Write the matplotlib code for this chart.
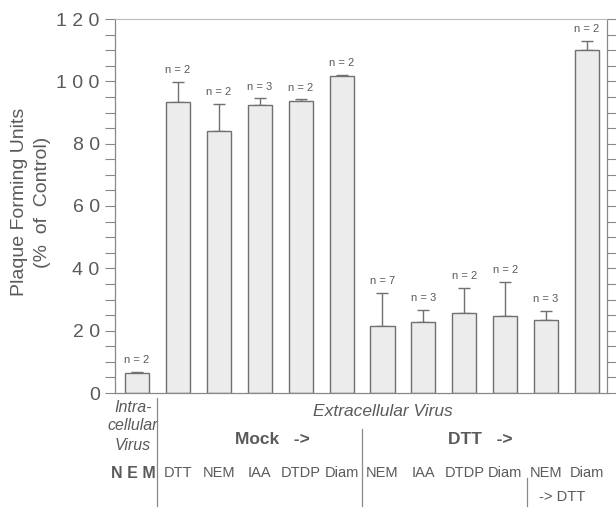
import matplotlib.pyplot as plt
from matplotlib.ticker import MultipleLocator, FixedFormatter, FixedLocator

treatments = ["DTT", "NEM", "IAA", "DTDP", "Diam", "NEM", "IAA", "DTDP", "Diam", "NEM", "Diam"]
values = [6.5, 93.5, 84.2, 92.5, 93.6, 101.8, 21.6, 22.9, 25.8, 24.8, 23.5, 110.1]
err_up = [0.3, 6.3, 8.6, 2.0, 0.6, 0.3, 10.5, 3.7, 8.0, 10.8, 2.9, 2.9]
n_labels = [2, 2, 2, 3, 2, 2, 7, 3, 2, 2, 3, 2]
yticks = [0, 20, 40, 60, 80, 100, 120]
ytick_labels = ["0", "2 0", "4 0", "6 0", "8 0", "1 0 0", "1 2 0"]

grey = "#5a5a5a"
plt.rcParams['font.family'] = ['Liberation Sans', 'DejaVu Sans']

fig = plt.figure(figsize=(6.16, 5.09), dpi=100)
ax = fig.add_axes([115 / 616, 1 - 393 / 509, (607 - 115) / 616, (393 - 19) / 509])

x = list(range(len(values)))
ax.bar(x, values, width=0.59, color="#ececec", edgecolor="#707070", linewidth=1.0, zorder=2)
ax.errorbar(x, values, yerr=[[0] * len(values), err_up], fmt="none", ecolor="#707070",
            elinewidth=1.0, capsize=4, capthick=1.0, zorder=1)
for xi, v, e, n in zip(x, values, err_up, n_labels):
    ax.text(xi, v + e + 2.2, f"n = {n}", ha="center", va="bottom", fontsize=8, color=grey)

ax.set_xlim(-0.54, 11.49)
ax.set_ylim(0, 120)
ax.yaxis.set_major_locator(FixedLocator(yticks))
ax.yaxis.set_major_formatter(FixedFormatter(ytick_labels))
ax.yaxis.set_minor_locator(MultipleLocator(5))
ax.tick_params(axis="y", which="both", direction="out", length=7, width=0.8, color="#888888",
               labelsize=14, labelcolor=grey, right=True, pad=4)
ax.set_xticks([])
ax.spines["top"].set_color("#bbbbbb")
ax.spines["top"].set_linestyle((0, (1, 1)))
ax.spines["top"].set_linewidth(0.8)
for s in ["left", "right", "bottom"]:
    ax.spines[s].set_color("#888888")
    ax.spines[s].set_linewidth(0.9)

ax.set_ylabel("Plaque Forming Units\n(%  of  Control)", fontsize=14, color=grey,
              linespacing=1.45, va="center")
ax.yaxis.set_label_coords(-0.17, 0.51)

tr = ax.get_xaxis_transform()


def ay(py):
    return (393 - py) / 374


# first column labels
for txt, py in [("Intra-", 407), ("cellular", 426), ("Virus", 446)]:
    ax.text(-0.1, ay(py), txt, transform=tr, ha="center", va="center", fontsize=11.5,
            style="italic", color=grey)
ax.text(-0.1, ay(473), "N E M", transform=tr, ha="center", va="center", fontsize=11.5,
        weight="bold", color=grey)

ax.text(6.0, ay(412), "Extracellular Virus", transform=tr, ha="center", va="center",
        fontsize=12.5, style="italic", color=grey)
ax.text(3.3, ay(440), "Mock   ->", transform=tr, ha="center", va="center", fontsize=12.5,
        weight="bold", color=grey)
ax.text(8.4, ay(440), "DTT   ->", transform=tr, ha="center", va="center", fontsize=12.5,
        weight="bold", color=grey)

for xi, t in zip(x[1:], treatments):
    ax.text(xi, ay(473), t, transform=tr, ha="center", va="center", fontsize=10.5, color=grey)
ax.text(10.4, ay(497), "-> DTT", transform=tr, ha="center", va="center", fontsize=10.5, color=grey)

# separator lines
for lx, y0, y1 in [(0.49, 398, 506), (5.5, 429, 506), (9.53, 478, 506)]:
    ax.plot([lx, lx], [ay(y0), ay(y1)], transform=tr, color="#888888", lw=0.9, clip_on=False)

fig.savefig("out.png", dpi=100)
